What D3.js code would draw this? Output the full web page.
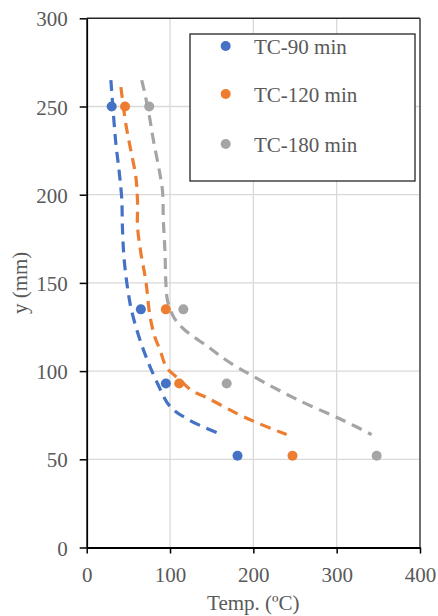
<!DOCTYPE html>
<html>
<head>
<meta charset="utf-8">
<script src="https://cdn.jsdelivr.net/npm/d3@7"></script>
<style>
  html, body { margin: 0; padding: 0; background: #fff; }
  svg { display: block; }
  svg text { font-family: "Liberation Serif", "Times New Roman", serif; }
</style>
</head>
<body>
<svg id="chart" width="438" height="616"></svg>
<script>
// ---- data ----
const seriesNames = ["TC-90 min", "TC-120 min", "TC-180 min"];
const seriesColors = ["#4472C4", "#ED7D31", "#A5A5A5"];
// measured points: [temperature, y]
const tc90 = [[30, 250], [65, 135], [95, 93], [181, 52]];
const tc120 = [[46, 250], [95, 135], [111, 93], [247, 52]];
const tc180 = [[75, 250], [116, 135], [168, 93], [348, 52]];
// dashed trend curves: [temperature, y]
const trend90 = [[29, 265], [32, 246], [35, 229], [39, 213], [42, 198], [43, 180], [45, 163], [50, 144], [54, 134], [63, 119], [73, 106], [85, 93], [100, 80], [124, 72], [162, 64]];
const trend120 = [[41, 261], [47, 240], [53, 225], [59, 210], [61, 196], [61, 182], [65, 167], [71, 151], [76, 131], [82, 119], [88, 112], [96, 102], [112, 95], [126, 89], [144, 85], [180, 76], [208, 70], [240, 64]];
const trend180 = [[66, 265], [69, 259], [75, 245], [80, 231], [87, 214], [91, 202], [92, 185], [94, 167], [95, 150], [97, 140], [104, 131], [116, 124], [148, 113], [168, 106], [200, 97], [252, 84], [308, 72], [342, 64]];
const xTicks = [0, 100, 200, 300, 400];
const yTicks = [0, 50, 100, 150, 200, 250, 300];
const xTitle = "Temp. (ºC)";
const yTitle = "y (mm)";

const points = [tc90, tc120, tc180];
const trends = [trend90, trend120, trend180];

// ---- layout ----
const svg = d3.select("#chart");
const L = 86.7, R = 420, T = 18.3, B = 547.5;
const x = d3.scaleLinear().domain([0, 400]).range([L, R]);
const y = d3.scaleLinear().domain([0, 300]).range([B, T]);
const textColor = "#595959";
const fontSize = 21;
const serif = '"Liberation Serif", "Times New Roman", serif';

// gridlines
const grid = svg.append("g");
grid.selectAll("line.gx").data(xTicks.slice(1, -1)).join("line")
  .attr("x1", d => x(d)).attr("x2", d => x(d)).attr("y1", T).attr("y2", B)
  .attr("stroke", "#d9d9d9").attr("stroke-width", 1.3);
grid.selectAll("line.gy").data(yTicks.slice(1, -1)).join("line")
  .attr("x1", L).attr("x2", R).attr("y1", d => y(d)).attr("y2", d => y(d))
  .attr("stroke", "#d9d9d9").attr("stroke-width", 1.3);

// top/right frame
svg.append("line").attr("x1", L).attr("x2", R).attr("y1", T).attr("y2", T)
  .attr("stroke", "#262626").attr("stroke-width", 1.5);
svg.append("line").attr("x1", R).attr("x2", R).attr("y1", T).attr("y2", B)
  .attr("stroke", "#404040").attr("stroke-width", 1.5);

// axes
const xAxis = svg.append("g").attr("transform", `translate(0,${B})`)
  .call(d3.axisBottom(x).tickValues(xTicks).tickSize(6).tickPadding(13.5).tickSizeOuter(0));
const yAxis = svg.append("g").attr("transform", `translate(${L},0)`)
  .call(d3.axisLeft(y).tickValues(yTicks).tickSize(7).tickPadding(12).tickSizeOuter(0));
[xAxis, yAxis].forEach(a => {
  a.attr("font-family", serif).attr("font-size", fontSize);
  a.select(".domain").attr("stroke", "#000").attr("stroke-width", 1.8);
  a.selectAll(".tick line").attr("stroke", "#000").attr("stroke-width", 1.5);
  a.selectAll(".tick text").attr("fill", textColor)
    .attr("font-family", serif).attr("font-size", fontSize);
});
yAxis.selectAll(".tick text").attr("dy", "0.36em");

// trend lines
const line = d3.line().x(d => x(d[0])).y(d => y(d[1])).curve(d3.curveCatmullRom.alpha(0.5));
svg.append("g").selectAll("path").data(trends).join("path")
  .attr("d", d => line(d))
  .attr("fill", "none")
  .attr("stroke", (d, i) => seriesColors[i])
  .attr("stroke-width", 3.2)
  .attr("stroke-dasharray", "11,7");

// points
points.forEach((pts, i) => {
  svg.append("g").selectAll("circle").data(pts).join("circle")
    .attr("cx", d => x(d[0])).attr("cy", d => y(d[1])).attr("r", 5)
    .attr("fill", seriesColors[i]);
});

// legend
const lg = svg.append("g");
lg.append("rect").attr("x", 190).attr("y", 34).attr("width", 225).attr("height", 147)
  .attr("fill", "#fff").attr("stroke", "#262626").attr("stroke-width", 1.3);
const legendY = [46, 94, 144];
seriesNames.forEach((name, i) => {
  lg.append("circle").attr("cx", 225.7).attr("cy", legendY[i]).attr("r", 5).attr("fill", seriesColors[i]);
  lg.append("text").attr("x", 254).attr("y", legendY[i] + 7.5)
    .attr("fill", textColor).attr("font-family", serif).attr("font-size", fontSize).text(name);
});

// axis titles
svg.append("text").attr("x", (L + R) / 2).attr("y", 609.5).attr("text-anchor", "middle")
  .attr("fill", textColor).attr("font-family", serif).attr("font-size", fontSize).text(xTitle);
svg.append("text").attr("transform", `translate(26.5,${(T + B) / 2}) rotate(-90)`)
  .attr("text-anchor", "middle").attr("fill", textColor).attr("font-family", serif)
  .attr("font-size", fontSize).text(yTitle);
</script>
</body>
</html>
